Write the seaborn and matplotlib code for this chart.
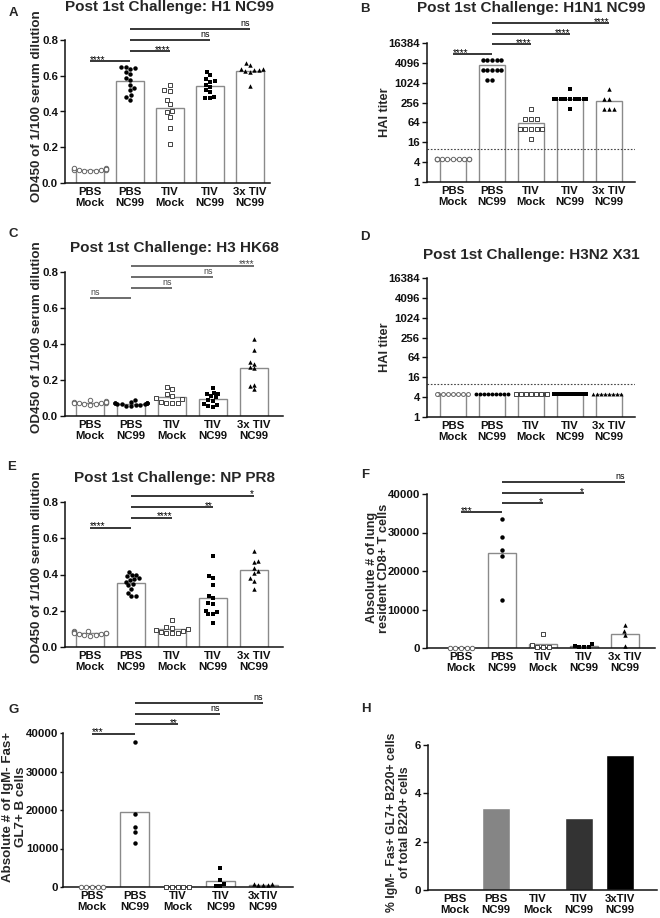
import warnings
import numpy as np
import pandas as pd
import matplotlib
matplotlib.use("Agg")
import matplotlib.pyplot as plt
import matplotlib.transforms as mtransforms
from matplotlib.ticker import NullLocator
import seaborn as sns

warnings.filterwarnings("ignore")

# =============================================================================
# DATA
# =============================================================================

groups = ["PBS\nMock", "PBS\nNC99", "TIV\nMock", "TIV\nNC99", "3x TIV\nNC99"]
groups_gc = ["PBS\nMock", "PBS\nNC99", "TIV\nMock", "TIV\nNC99", "3xTIV\nNC99"]

# A: H1 NC99 ELISA, OD450
h1_od = [
    [0.085, 0.08, 0.078, 0.075, 0.07, 0.068, 0.065, 0.068, 0.07, 0.075, 0.08, 0.082],
    [0.65, 0.65, 0.645, 0.64, 0.62, 0.61, 0.59, 0.575, 0.55, 0.53, 0.52, 0.49, 0.48, 0.465],
    [0.55, 0.52, 0.515, 0.465, 0.44, 0.40, 0.395, 0.37, 0.305, 0.217],
    [0.622, 0.604, 0.58, 0.572, 0.566, 0.548, 0.538, 0.52, 0.51, 0.482, 0.477, 0.473],
    [0.67, 0.66, 0.64, 0.635, 0.63, 0.63, 0.625, 0.62, 0.54],
]

# B: H1N1 NC99 HAI titer
h1n1_hai = [
    [5, 5, 5, 5, 5, 5, 5, 5, 5, 5],
    [5120, 5120, 5120, 5120, 5120, 2560, 2560, 2560, 2560, 2560, 1280, 1280],
    [160, 80, 80, 80, 40, 40, 40, 40, 40, 20],
    [640, 320, 320, 320, 320, 320, 320, 320, 320, 320, 320, 160],
    [640, 320, 320, 160, 160, 160],
]

# C: H3 HK68 ELISA, OD450
h3_od = [
    [0.09, 0.085, 0.08, 0.075, 0.07, 0.065, 0.06, 0.065, 0.07, 0.075, 0.08],
    [0.09, 0.08, 0.075, 0.07, 0.07, 0.068, 0.065, 0.065, 0.06, 0.06, 0.058, 0.07, 0.075, 0.055],
    [0.16, 0.15, 0.12, 0.11, 0.10, 0.095, 0.08, 0.075, 0.075, 0.075],
    [0.155, 0.13, 0.125, 0.12, 0.11, 0.105, 0.09, 0.085, 0.065, 0.06, 0.055, 0.05],
    [0.43, 0.365, 0.30, 0.29, 0.275, 0.265, 0.175, 0.165, 0.15],
]

# D: H3N2 X31 HAI titer
h3n2_hai = [
    [5, 5, 5, 5, 5, 5, 5, 5],
    [5, 5, 5, 5, 5, 5, 5, 5, 5],
    [5, 5, 5, 5, 5, 5, 5, 5],
    [5, 5, 5, 5, 5, 5, 5, 5, 5, 5, 5, 5],
    [5, 5, 5, 5, 5, 5, 5, 5],
]

# E: NP PR8 ELISA, OD450
np_od = [
    [0.09, 0.088, 0.085, 0.08, 0.078, 0.075, 0.072, 0.07, 0.068, 0.065, 0.062],
    [0.415, 0.40, 0.395, 0.39, 0.38, 0.375, 0.37, 0.36, 0.35, 0.34, 0.32, 0.30, 0.28, 0.28],
    [0.15, 0.11, 0.105, 0.10, 0.095, 0.09, 0.085, 0.08, 0.08, 0.075],
    [0.50, 0.39, 0.38, 0.34, 0.28, 0.27, 0.245, 0.24, 0.20, 0.195, 0.18, 0.18, 0.135],
    [0.53, 0.475, 0.47, 0.435, 0.42, 0.41, 0.38, 0.365, 0.32],
]

# F: lung resident CD8+ T cells
cd8_cells = [
    [60, 50, 40, 50, 60],
    [33500, 28800, 25500, 23800, 12400],
    [3600, 700, 250, 200, 150],
    [1100, 300, 200, 150, 500],
    [6100, 4400, 3300, 600],
]

# G: IgM- Fas+ GL7+ B cells
gc_cells = [
    [0, 0, 0, 0, 0],
    [37700, 19000, 15600, 14300, 11300],
    [0, 0, 0, 0, 0],
    [5000, 1900, 800, 300, 200],
    [900, 700, 500, 400, 500],
]

# H: % of total B220+ cells
gc_pct = [0.02, 3.38, 0.0, 2.98, 5.6]
gc_pct_colors = ["#9a9a9a", "#858585", "#bdbdbd", "#333333", "#000000"]

# significance comparisons: PBS Mock-PBS NC99, then PBS NC99 vs the others
pairs = [(0, 1), (1, 2), (1, 3), (1, 4)]
sig_a = ["****", "****", "ns", "ns"]
sig_b = ["****", "****", "****", "****"]
sig_c = ["ns", "ns", "ns", "****"]
sig_e = ["****", "****", "**", "*"]
sig_f = ["***", "*", "*", "ns"]
sig_g = ["***", "**", "ns", "ns"]

# =============================================================================
# STYLE
# =============================================================================

sns.set_style("ticks")
plt.rcParams["font.family"] = ["Liberation Sans", "DejaVu Sans"]
plt.rcParams.update({
    "font.weight": "bold",
    "axes.labelweight": "bold",
    "axes.linewidth": 1.1,
    "axes.edgecolor": "#111111",
    "xtick.color": "#111111",
    "ytick.color": "#111111",
})

marks = ["o", "o", "s", "s", "^"]
faces = ["white", "black", "white", "black", "black"]
edges = ["#666666", "black", "#444444", "black", "black"]
edge_w = [0.7, 0, 0.7, 0, 0]

W, H = 660, 918
fig = plt.figure(figsize=(W / 100, H / 100), dpi=100)


def frame(l, r, t, b):
    return fig.add_axes([l / W, 1 - b / H, (r - l) / W, (b - t) / H])


def long_form(values, labels):
    rows = [(lab, v) for lab, vals in zip(labels, values) for v in vals]
    return pd.DataFrame(rows, columns=["group", "value"])


def dot_bars(ax, values, labels, log=False, size=3.2):
    df = long_form(values, labels)
    sns.barplot(data=df, x="group", y="value", order=labels, color="white",
                edgecolor="#8a8a8a", linewidth=1.0, width=0.68, errorbar=None,
                saturation=1, ax=ax)
    if log:
        ax.set_yscale("log", base=2)
    for i, lab in enumerate(labels):
        sub = df[df["group"] == lab]
        sns.swarmplot(data=sub, x="group", y="value", order=labels, marker=marks[i],
                      color=faces[i], edgecolor=edges[i], linewidth=edge_w[i],
                      size=size, ax=ax, zorder=3, clip_on=False)


def finish(ax, xlim, ylabel, lab_x, lab_y=0.54, lab_size=9.6, ypad=1.5, ylen=3.5):
    ax.set_xlim(*xlim)
    ax.set_xlabel("")
    ax.set_ylabel(ylabel, fontsize=lab_size, linespacing=1.05)
    ax.yaxis.set_label_coords(lab_x, lab_y)
    ax.tick_params(axis="x", length=0, pad=3, labelsize=8.2)
    ax.tick_params(axis="y", length=ylen, width=1.0, pad=ypad, labelsize=8.2)
    for t in ax.get_xticklabels():
        t.set_linespacing(1.05)
        t.set_fontweight("bold")
    for t in ax.get_yticklabels():
        t.set_fontweight("bold")
    sns.despine(ax=ax)


def sig_bars(ax, fracs, labels, color="black"):
    trans = mtransforms.blended_transform_factory(ax.transData, ax.transAxes)
    for k, ((i, j), yf, txt) in enumerate(zip(pairs, fracs, labels)):
        ax.plot([i, j], [yf, yf], transform=trans, color=color, lw=1.1,
                clip_on=False, solid_capstyle="butt")
        x = i if k == 0 else j
        ha = "left" if k == 0 else "right"
        if txt == "ns":
            ax.annotate(txt, (x, yf), xycoords=trans, xytext=(0, 0.6),
                        textcoords="offset points", ha=ha, va="bottom",
                        fontsize=6.4, fontweight="normal", color=color)
        else:
            ax.annotate(txt, (x, yf), xycoords=trans, xytext=(0, -1.2),
                        textcoords="offset points", ha=ha, va="baseline",
                        fontsize=7.2, fontweight="normal", color=color)


def title(ax, x, y, txt):
    ax.text(x, y, txt, transform=ax.transAxes, ha="center", va="center",
            fontsize=11, fontweight="bold")


def hai_axis(ax):
    ax.set_ylim(1, 16384)
    ticks = [1, 4, 16, 64, 256, 1024, 4096, 16384]
    ax.set_yticks(ticks, [str(t) for t in ticks])
    ax.yaxis.set_minor_locator(NullLocator())
    ax.axhline(10, ls=(0, (1.5, 1.5)), color="#444444", lw=0.8, zorder=2)


# =============================================================================
# PANELS
# =============================================================================

# A
ax = frame(65, 270, 40, 183)
dot_bars(ax, h1_od, groups)
ax.set_ylim(0, 0.8)
ax.set_yticks([0, 0.2, 0.4, 0.6, 0.8])
finish(ax, (-0.625, 4.5), "OD450 of 1/100 serum dilution", -0.107)
sig_bars(ax, [0.853, 0.923, 1.0, 1.077], sig_a)
title(ax, 0.51, 1.231, "Post 1st Challenge: H1 NC99")

# B
ax = frame(427, 635, 43, 182)
dot_bars(ax, h1n1_hai, groups, log=True)
hai_axis(ax)
finish(ax, (-0.667, 4.67), "HAI titer", -0.173, 0.5, 9.2)
sig_bars(ax, [0.921, 0.993, 1.065, 1.144], sig_b)
title(ax, 0.5, 1.252, "Post 1st Challenge: H1N1 NC99")

# C
ax = frame(65, 283, 272, 416)
dot_bars(ax, h3_od, groups)
ax.set_ylim(0, 0.8)
ax.set_yticks([0, 0.2, 0.4, 0.6, 0.8])
finish(ax, (-0.61, 4.71), "OD450 of 1/100 serum dilution", -0.10, 0.55)
sig_bars(ax, [0.822, 0.891, 0.965, 1.044], sig_c, color="#444444")
title(ax, 0.5, 1.167, "Post 1st Challenge: H3 HK68")

# D
ax = frame(427, 635, 278, 417)
dot_bars(ax, h3n2_hai, groups, log=True, size=2.8)
hai_axis(ax)
finish(ax, (-0.667, 4.67), "HAI titer", -0.173, 0.5, 9.2)
title(ax, 0.5, 1.165, "Post 1st Challenge: H3N2 X31")

# E
ax = frame(65, 283, 502, 647)
dot_bars(ax, np_od, groups)
ax.set_ylim(0, 0.8)
ax.set_yticks([0, 0.2, 0.4, 0.6, 0.8])
finish(ax, (-0.61, 4.71), "OD450 of 1/100 serum dilution", -0.10, 0.55)
sig_bars(ax, [0.823, 0.892, 0.966, 1.044], sig_e)
title(ax, 0.5, 1.166, "Post 1st Challenge: NP PR8")

# F
ax = frame(427, 655, 494, 648)
dot_bars(ax, cd8_cells, groups)
ax.set_ylim(0, 40000)
ax.set_yticks([0, 10000, 20000, 30000, 40000])
finish(ax, (-0.83, 4.73), "Absolute # of lung\nresident CD8+ T cells", -0.162, 0.52, 9.2)
sig_bars(ax, [0.881, 0.942, 1.006, 1.078], sig_f)

# G
ax = frame(63, 293, 733, 887)
dot_bars(ax, gc_cells, groups_gc)
ax.set_ylim(0, 40000)
ax.set_yticks([0, 10000, 20000, 30000, 40000])
finish(ax, (-0.68, 4.70), "Absolute # of IgM- Fas+\nGL7+ B cells", -0.157, 0.52, 9.6,
       ypad=0.8, ylen=2.5)
sig_bars(ax, [0.996, 1.056, 1.126, 1.195], sig_g)

# H
ax = frame(428, 657, 745, 890)
sns.barplot(x=groups_gc, y=gc_pct, hue=groups_gc, palette=gc_pct_colors,
            legend=False, saturation=1, width=0.68, ax=ax)
ax.set_ylim(0, 6)
ax.set_yticks([0, 2, 4, 6])
finish(ax, (-0.65, 4.9), "% IgM-  Fas+ GL7+ B220+ cells\nof total B220+ cells",
       -0.075, 0.47, 8.8)

# panel letters
for letter, (px, py) in zip("ABCDEFGH", [(13, 13), (365, 9), (13, 234), (365, 237),
                                        (12, 467), (365, 475), (14, 710), (366, 709)]):
    fig.text(px / W, 1 - py / H, letter, ha="center", va="center",
             fontsize=9.5, fontweight="bold")

fig.savefig("out.png", dpi=100)
